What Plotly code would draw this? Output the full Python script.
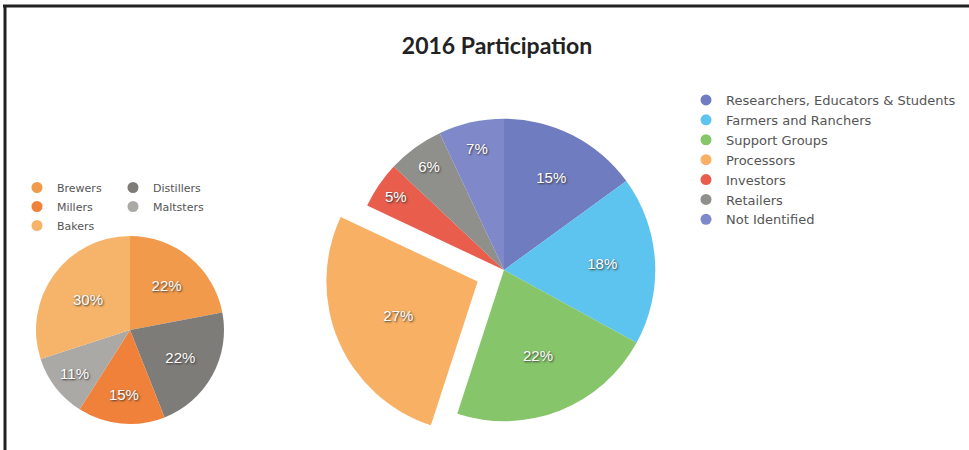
import plotly.graph_objects as go

W, H = 969, 450

# ---- data ----
title_text = "2016 Participation"

left_labels = ["Brewers", "Distillers", "Millers", "Maltsters", "Bakers"]
left_values = [22, 22, 15, 11, 30]
left_colors = ["#f29a4c", "#7e7c79", "#f0813a", "#aaa9a6", "#f6b46a"]
left_legend_col1 = ["Brewers", "Millers", "Bakers"]
left_legend_col2 = ["Distillers", "Maltsters"]

right_labels = ["Researchers, Educators & Students", "Farmers and Ranchers", "Support Groups",
                "Processors", "Investors", "Retailers", "Not Identified"]
right_values = [15, 18, 22, 27, 5, 6, 7]
right_colors = ["#6f7cc0", "#5cc4ee", "#86c56a", "#f7b064", "#e85d4c", "#8f8f8b", "#7f88c9"]
right_pull = [0, 0, 0, 0.19, 0, 0, 0]


def px_x(p):
    return p / W


def px_y(p):
    return 1 - p / H


label_font = dict(family="Liberation Sans", size=15, color="white",
                  shadow="1px 1px 2px rgba(50,50,50,0.95)")

fig = go.Figure()

fig.add_trace(go.Pie(
    labels=left_labels, values=left_values, sort=False, direction="clockwise", rotation=0,
    marker=dict(colors=left_colors, line=dict(width=0)),
    texttemplate="%{value}%", textposition="inside", insidetextorientation="horizontal",
    textfont=label_font, showlegend=False, hoverinfo="label+value",
    domain=dict(x=[px_x(36), px_x(224)], y=[px_y(424), px_y(236)]),
))

fig.add_trace(go.Pie(
    labels=right_labels, values=right_values, sort=False, direction="clockwise", rotation=0,
    pull=right_pull,
    marker=dict(colors=right_colors, line=dict(width=0)),
    texttemplate="%{value}%", textposition="inside", insidetextorientation="horizontal",
    textfont=label_font, showlegend=False, hoverinfo="label+value",
    domain=dict(x=[px_x(324), px_x(684)], y=[0, px_y(90)]),
))

# legend entries (circle markers)
for lab, col in zip(right_labels, right_colors):
    fig.add_trace(go.Scatter(x=[None], y=[None], mode="markers", name=lab,
                             marker=dict(color=col, size=11), legend="legend"))
for lab in left_legend_col1:
    col = left_colors[left_labels.index(lab)]
    fig.add_trace(go.Scatter(x=[None], y=[None], mode="markers", name=lab,
                             marker=dict(color=col, size=11), legend="legend2"))
for lab in left_legend_col2:
    col = left_colors[left_labels.index(lab)]
    fig.add_trace(go.Scatter(x=[None], y=[None], mode="markers", name=lab,
                             marker=dict(color=col, size=11), legend="legend3"))

left_legend_font = dict(family="DejaVu Sans", size=11, color="#555555")
right_legend_font = dict(family="DejaVu Sans", size=13, color="#555555")
common_legend = dict(bgcolor="rgba(0,0,0,0)", xanchor="left", yanchor="top",
                     itemclick=False, itemdoubleclick=False)

fig.update_layout(
    width=W, height=H,
    margin=dict(l=0, r=0, t=0, b=0),
    paper_bgcolor="white", plot_bgcolor="white",
    title=dict(text=title_text, x=px_x(497), xanchor="center", y=px_y(46), yanchor="middle",
               font=dict(family="Lato", size=23, color="#222222", weight="bold")),
    xaxis=dict(visible=False), yaxis=dict(visible=False),
    legend=dict(x=px_x(686), y=px_y(85), font=right_legend_font, **common_legend),
    legend2=dict(x=px_x(17), y=px_y(173), font=left_legend_font, **common_legend),
    legend3=dict(x=px_x(113), y=px_y(173), font=left_legend_font, **common_legend),
    shapes=[
        dict(type="line", xref="paper", yref="paper", x0=px_x(3), x1=1, y0=px_y(6), y1=px_y(6),
             line=dict(color="#222222", width=3)),
        dict(type="line", xref="paper", yref="paper", x0=px_x(5), x1=px_x(5), y0=0, y1=px_y(5),
             line=dict(color="#222222", width=3)),
    ],
)

fig.write_html("out.html", config={"displayModeBar": False},
               post_script="document.body.style.margin='0';")
